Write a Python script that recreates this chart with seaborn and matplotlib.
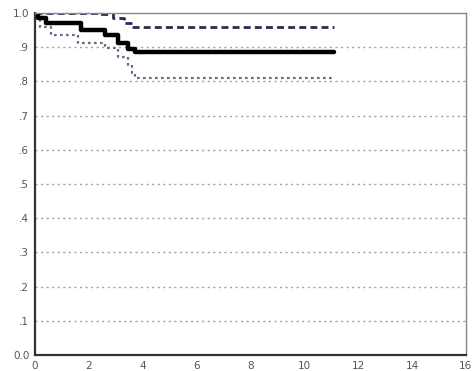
import matplotlib
matplotlib.use("Agg")
import matplotlib.pyplot as plt
import seaborn as sns
import pandas as pd
import numpy as np

# Kaplan-Meier survival estimate with confidence bounds
km_time = [0.0, 0.1, 0.4, 1.7, 2.6, 3.1, 3.45, 3.7, 11.1]
km_surv = [1.0, 0.985, 0.971, 0.950, 0.936, 0.912, 0.895, 0.886, 0.886]

upper_time = [0.0, 2.4, 2.9, 3.3, 3.6, 11.1]
upper_surv = [1.0, 0.996, 0.985, 0.972, 0.960, 0.960]

lower_time = [0.0, 0.2, 0.6, 1.6, 2.6, 3.1, 3.45, 3.6, 3.7, 11.1]
lower_surv = [0.985, 0.959, 0.936, 0.912, 0.898, 0.871, 0.848, 0.825, 0.810, 0.810]

x_ticks = [0, 2, 4, 6, 8, 10, 12, 14, 16]
y_ticks = [0.0, 0.1, 0.2, 0.3, 0.4, 0.5, 0.6, 0.7, 0.8, 0.9, 1.0]
y_tick_labels = ["0.0", ".1", ".2", ".3", ".4", ".5", ".6", ".7", ".8", ".9", "1.0"]

sns.set_style("white")
plt.rcParams['font.family'] = ['DejaVu Sans']

fig = plt.figure(figsize=(4.72, 3.71), dpi=100)
ax = fig.add_axes([0.074, 0.043, 0.913, 0.922])

df_km = pd.DataFrame({"t": km_time, "s": km_surv})
df_up = pd.DataFrame({"t": upper_time, "s": upper_surv})
df_lo = pd.DataFrame({"t": lower_time, "s": lower_surv})

for yv in y_ticks[1:-1]:
    ax.axhline(yv, color="#a0a0a0", lw=1.0, ls=(0, (1.5, 2.5)), zorder=0)

sns.lineplot(data=df_up, x="t", y="s", ax=ax, drawstyle="steps-post",
             color="#2a2a55", lw=2.0, ls=(0, (2.5, 1.5)), estimator=None, sort=False)
sns.lineplot(data=df_lo, x="t", y="s", ax=ax, drawstyle="steps-post",
             color="#6a6a88", lw=1.6, ls=(0, (1.2, 1.5)), estimator=None, sort=False)
sns.lineplot(data=df_km, x="t", y="s", ax=ax, drawstyle="steps-post",
             color="black", lw=3.2, estimator=None, sort=False)

ax.set_xlim(0, 16)
ax.set_ylim(0, 1.0)
ax.set_xticks(x_ticks)
ax.set_xticklabels([str(v) for v in x_ticks])
ax.set_yticks(y_ticks)
ax.set_yticklabels(y_tick_labels)
ax.set_xlabel("")
ax.set_ylabel("")
ax.tick_params(axis="both", labelsize=7.5, labelcolor="#555555", color="black",
               length=2.5, width=1.5, pad=1.5)

for side in ["left", "bottom"]:
    ax.spines[side].set_color("#333333")
    ax.spines[side].set_linewidth(1.6)
for side in ["top", "right"]:
    ax.spines[side].set_color("#888888")
    ax.spines[side].set_linewidth(1.0)

fig.savefig("out.png", dpi=100)
